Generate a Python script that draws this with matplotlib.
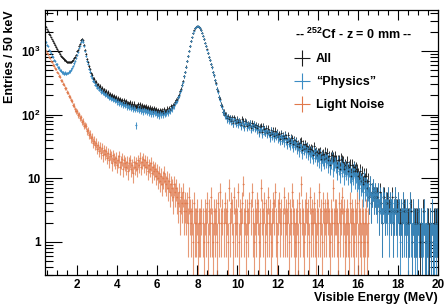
import numpy as np
import matplotlib
matplotlib.use("Agg")
import matplotlib.pyplot as plt
from matplotlib.lines import Line2D
from matplotlib.ticker import MultipleLocator, LogLocator, NullFormatter

plt.rcParams['font.family'] = ['Liberation Sans', 'DejaVu Sans']
plt.rcParams['font.weight'] = 'bold'
plt.rcParams['mathtext.fontset'] = 'custom'
plt.rcParams['mathtext.rm'] = 'Liberation Sans:bold'
plt.rcParams['mathtext.bf'] = 'Liberation Sans:bold'

# histogram binning: 50 keV bins starting at 0.4 MeV
e_min = 0.4
bin_width = 0.05

# "Physics" events per bin
phys = [
    1392, 1248, 1175, 1051, 1003, 931, 842, 812, 733, 701,
    632, 614, 551, 547, 498, 489, 458, 462, 438, 455,
    441, 452, 448, 473, 476, 509, 538, 582, 637, 693,
    764, 871, 953, 1092, 1213, 1391, 1478, 1384, 1192, 983,
    842, 703, 618, 524, 471, 409, 381, 338, 326, 296,
    291, 265, 268, 247, 250, 229, 234, 215, 221, 204,
    211, 193, 199, 184, 190, 176, 183, 169, 175, 162,
    171, 155, 163, 149, 158, 144, 152, 139, 149, 137,
    146, 131, 140, 128, 137, 124, 133, 121, 131, 119,
    68, 119, 128, 115, 124, 113, 122, 109, 121, 112,
    118, 108, 117, 105, 114, 103, 112, 101, 113, 104,
    109, 98, 106, 96, 108, 99, 107, 97, 110, 101,
    104, 113, 106, 118, 112, 126, 121, 137, 134, 152,
    161, 164, 188, 196, 229, 246, 291, 326, 397, 466,
    566, 695, 824, 1008, 1193, 1428, 1641, 1889, 2093, 2281,
    2386, 2437, 2458, 2395, 2296, 2124, 1947, 1733, 1548, 1352,
    1207, 1052, 938, 812, 726, 622, 551, 463, 411, 344,
    306, 254, 228, 187, 171, 141, 132, 110, 108, 94,
    97, 84, 93, 79, 88, 76, 87, 72, 85, 80,
    71, 82, 69, 78, 74, 66, 80, 70, 63, 76,
    74, 62, 70, 65, 73, 58, 68, 64, 71, 60,
    66, 57, 63, 52, 61, 59, 50, 64, 55, 53,
    58, 49, 55, 51, 44, 56, 47, 52, 43, 50,
    46, 51, 42, 45, 39, 48, 41, 44, 37, 46,
    40, 35, 43, 37, 33, 41, 36, 31, 38, 34,
    36, 29, 33, 27, 34, 30, 25, 32, 28, 31,
    26, 30, 24, 28, 22, 27, 25, 21, 28, 23,
    25, 20, 23, 19, 24, 17, 22, 20, 18, 23,
    19, 21, 16, 20, 15, 18, 21, 14, 17, 19,
    16, 13, 18, 15, 12, 17, 14, 16, 11, 15,
    13, 15, 11, 14, 12, 9, 13, 11, 14, 10,
    12, 9, 10, 7, 11, 8, 9, 6, 10, 7,
    8, 6, 7, 5, 8, 4, 6, 7, 5, 6,
    5, 4, 6, 3, 5, 4, 2, 5, 4, 3,
    4, 3, 5, 2, 4, 3, 4, 2, 3, 5,
    3, 2, 4, 3, 1, 3, 2, 4, 2, 3,
    2, 3, 1, 2, 4, 2, 1, 3, 2, 1,
    2, 1, 3, 2, 0, 2, 1, 2, 3, 1,
    1, 2, 1, 0, 2, 1, 3, 1, 1, 2,
    1, 2]

# light noise events per bin
light = [
    1012, 927, 889, 806, 771, 702, 676, 611, 589, 532,
    517, 468, 451, 406, 392, 349, 341, 304, 296, 262,
    259, 228, 222, 196, 191, 169, 164, 141, 138, 121,
    114, 112, 99, 101, 88, 90, 77, 78, 67, 69,
    65, 55, 57, 48, 50, 42, 44, 36, 39, 33,
    36, 29, 33, 27, 31, 25, 30, 23, 28, 24,
    27, 21, 25, 19, 24, 22, 17, 23, 20, 18,
    21, 16, 19, 22, 15, 18, 20, 14, 19, 17,
    15, 18, 13, 17, 19, 14, 16, 12, 18, 15,
    17, 14, 19, 16, 21, 15, 18, 20, 16, 19,
    15, 18, 13, 16, 14, 17, 12, 15, 13, 14,
    11, 13, 10, 12, 9, 11, 8, 10, 12, 9,
    8, 10, 7, 9, 6, 8, 7, 5, 8, 6,
    7, 5, 4, 6, 3, 5, 4, 6, 3, 4,
    3, 4, 2, 5, 3, 2, 3, 1, 4, 2,
    2, 3, 1, 2, 2, 3, 0, 2, 1, 3,
    2, 4, 1, 3, 2, 5, 2, 1, 3, 2,
    3, 1, 4, 2, 6, 2, 3, 0, 2, 4,
    2, 3, 1, 7, 2, 4, 3, 1, 5, 2,
    3, 2, 6, 1, 3, 2, 4, 8, 2, 3,
    1, 3, 2, 4, 0, 3, 6, 2, 1, 3,
    2, 4, 3, 1, 2, 7, 3, 2, 4, 1,
    3, 2, 5, 2, 3, 1, 2, 4, 3, 6,
    2, 1, 3, 4, 2, 3, 0, 2, 5, 2,
    3, 2, 4, 1, 3, 2, 6, 3, 2, 1,
    2, 3, 1, 4, 2, 8, 3, 2, 1, 3,
    4, 2, 3, 1, 5, 2, 3, 2, 4, 2,
    1, 3, 2, 6, 2, 3, 1, 4, 2, 3,
    2, 4, 3, 2, 1, 3, 2, 7, 2, 3,
    3, 2, 1, 4, 2, 3, 5, 2, 3, 1,
    2, 3, 2, 1, 4, 2, 3, 2, 1, 3,
    2, 4, 1, 3, 2, 1, 3, 2, 1, 2,
    3, 1, 2, 0, 0, 0, 0, 0, 0, 0,
    0, 0, 0, 0, 0, 0, 0, 0, 0, 0,
    0, 0, 0, 0, 0, 0, 0, 0, 0, 0,
    0, 0, 0, 0, 0, 0, 0, 0, 0, 0,
    0, 0, 0, 0, 0, 0, 0, 0, 0, 0,
    0, 0, 0, 0, 0, 0, 0, 0, 0, 0,
    0, 0, 0, 0, 0, 0, 0, 0, 0, 0,
    0, 0]

# all events per bin
all_ev = [
    2404, 2175, 2064, 1857, 1774, 1633, 1518, 1423, 1322, 1233,
    1149, 1082, 1002, 953, 890, 838, 799, 766, 734, 717,
    700, 680, 670, 669, 667, 678, 702, 723, 775, 814,
    878, 983, 1052, 1193, 1301, 1481, 1555, 1462, 1259, 1052,
    907, 758, 675, 572, 521, 451, 425, 374, 365, 329,
    327, 294, 301, 274, 281, 254, 264, 238, 249, 228,
    238, 214, 224, 203, 214, 198, 200, 192, 195, 180,
    192, 171, 182, 171, 173, 162, 172, 153, 168, 154,
    161, 149, 153, 145, 156, 138, 149, 133, 149, 134,
    136, 133, 147, 131, 145, 128, 140, 129, 137, 131,
    133, 126, 130, 121, 128, 120, 124, 116, 126, 118,
    120, 111, 116, 108, 117, 110, 115, 107, 122, 110,
    112, 123, 113, 127, 118, 134, 128, 142, 142, 158,
    168, 169, 192, 202, 232, 251, 295, 332, 400, 470,
    569, 699, 826, 1013, 1196, 1430, 1644, 1890, 2097, 2283,
    2388, 2440, 2459, 2397, 2298, 2127, 1947, 1735, 1549, 1355,
    1209, 1056, 939, 815, 728, 627, 553, 464, 414, 346,
    309, 255, 232, 189, 177, 143, 135, 110, 110, 98,
    99, 87, 94, 86, 90, 80, 90, 73, 90, 82,
    74, 84, 75, 79, 77, 68, 84, 78, 65, 79,
    75, 65, 72, 69, 73, 61, 74, 66, 72, 63,
    68, 61, 66, 53, 63, 66, 53, 66, 59, 54,
    61, 51, 60, 53, 47, 57, 49, 56, 46, 56,
    48, 52, 45, 49, 41, 51, 41, 46, 42, 48,
    43, 37, 47, 38, 36, 43, 42, 34, 40, 35,
    38, 32, 34, 31, 36, 38, 28, 34, 29, 34,
    30, 32, 27, 29, 27, 29, 28, 23, 32, 25,
    26, 23, 25, 25, 26, 20, 23, 24, 20, 26,
    21, 25, 19, 22, 16, 21, 23, 21, 19, 22,
    19, 15, 19, 19, 14, 20, 19, 18, 14, 16,
    15, 18, 13, 15, 16, 11, 16, 13, 15, 13,
    14, 13, 11, 10, 13, 9, 12, 8, 11, 9,
    11, 7, 9, 5, 8, 4, 6, 7, 5, 6,
    5, 5, 6, 3, 6, 4, 2, 5, 5, 3,
    4, 4, 5, 3, 4, 3, 5, 2, 3, 5,
    3, 3, 4, 3, 2, 3, 2, 4, 3, 3,
    2, 3, 2, 2, 4, 3, 1, 3, 2, 2,
    2, 2, 3, 2, 1, 2, 1, 3, 3, 1,
    1, 2, 2, 1, 2, 1, 3, 1, 2, 2,
    2, 2]

labels = ['All', '\u201cPhysics\u201d', 'Light Noise']
colors = ['#1a1a1a', '#3b8cc4', '#e0784a']
legend_title = '-- $^{252}$Cf - z = 0 mm --'

centers = e_min + bin_width * (np.arange(len(phys)) + 0.5)

fig = plt.figure(figsize=(4.45, 3.04), dpi=100)
ax = fig.add_axes([45 / 445, 29 / 304, 393 / 445, 265 / 304])


def draw_hist(counts, color, alpha, lw):
    y = np.array(counts, dtype=float)
    keep = y > 0
    x = centers[keep]
    y = y[keep]
    err = np.sqrt(y)
    low = np.minimum(err, y - 0.01)
    ax.errorbar(x, y, xerr=bin_width / 2, yerr=[low, err], fmt='o', ms=1.3, mew=0,
                color=color, ecolor=color, elinewidth=lw, capsize=0, alpha=alpha)


draw_hist(all_ev, colors[0], 0.9, 0.7)
draw_hist(phys, colors[1], 0.9, 0.75)
draw_hist(light, colors[2], 0.75, 0.8)

ax.set_yscale('log')
ax.set_xlim(0.4, 20)
ax.set_ylim(0.3, 4400)

ax.xaxis.set_major_locator(MultipleLocator(2))
ax.xaxis.set_minor_locator(MultipleLocator(0.5))
ax.set_yticks([1, 10, 100, 1000])
ax.set_yticklabels(['1', '10', '$10^{2}$', '$10^{3}$'])
ax.yaxis.set_minor_locator(LogLocator(base=10, subs=np.arange(2, 10)))
ax.yaxis.set_minor_formatter(NullFormatter())

ax.tick_params(which='both', direction='in', top=True, right=True, width=0.8,
               labelsize=8.5)
ax.tick_params(axis='x', which='major', length=7, pad=3)
ax.tick_params(axis='x', which='minor', length=3.5)
ax.tick_params(axis='y', which='major', length=12, pad=3)
ax.tick_params(axis='y', which='minor', length=6)
for lab in ax.get_xticklabels() + ax.get_yticklabels():
    lab.set_fontweight('bold')
for s in ax.spines.values():
    s.set_linewidth(0.9)

ax.set_xlabel('Visible Energy (MeV)', fontsize=9, fontweight='bold', ha='right')
ax.xaxis.set_label_coords(1.0, -0.065)
ax.set_ylabel('Entries / 50 keV', fontsize=9, fontweight='bold', loc='top')
ax.yaxis.set_label_coords(-0.075, 1.0)

handles = [Line2D([0], [0], color=c, marker='+', ms=12, mew=0.8, ls='none')
           for c in colors]
leg = ax.legend(handles, labels, title=legend_title, loc='upper left',
                bbox_to_anchor=(289 / 445, 1 - 21 / 304), bbox_transform=fig.transFigure,
                frameon=False, fontsize=9, title_fontsize=9, handlelength=1.1,
                handletextpad=0.55, labelspacing=0.88, borderpad=0, alignment='left')
for t in leg.get_texts():
    t.set_fontweight('bold')
leg.get_title().set_fontweight('bold')

fig.savefig('out.png', dpi=100)
